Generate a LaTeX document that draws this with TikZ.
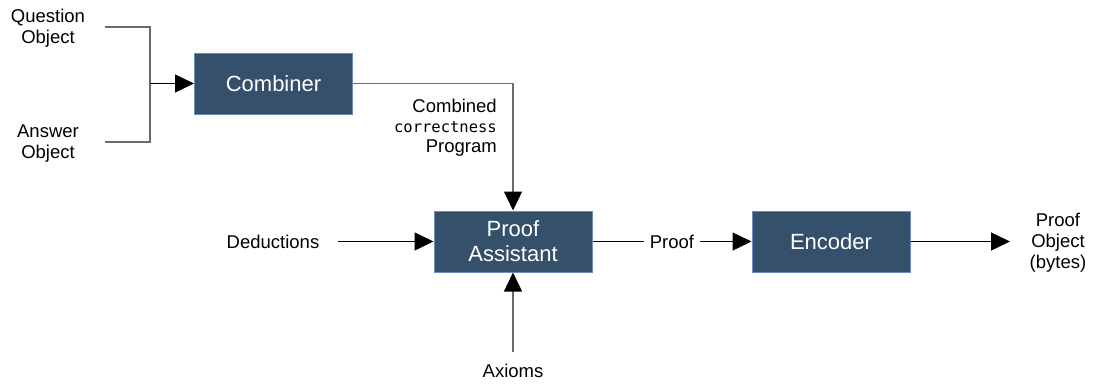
\documentclass[tikz,border=0pt]{standalone}
\usepackage{fontspec}
\setmainfont{Liberation Sans}
\setmonofont{DejaVu Sans Mono}
\usetikzlibrary{arrows.meta}
\definecolor{boxfill}{HTML}{34506A}
\definecolor{boxline}{HTML}{6C8EBF}
\definecolor{wiregray}{HTML}{6A6A6A}
\begin{document}
\begin{tikzpicture}[x=1pt,y=-1pt,
  block/.style={draw=boxline, line width=1pt, fill=boxfill, text=white,
    font=\fontsize{22}{25}\selectfont, minimum width=158pt, minimum height=61pt,
    align=center, inner sep=0pt},
  lbl/.style={font=\fontsize{18.5}{21}\selectfont, align=center, inner sep=0pt},
  wire/.style={line width=1.4pt, draw=black},
  gwire/.style={line width=1.4pt, draw=wiregray},
  tip/.style={-{Triangle[length=19pt,width=18pt,color=black]}}
]
\useasboundingbox (0,0) rectangle (1100,383);

% processing blocks
\node[block] (comb) at (273.5,83.5) {Combiner};
\node[block] (pa) at (513,241.5) {Proof\\Assistant};
\node[block] (enc) at (831,241.5) {Encoder};

% inputs and outputs
\node[lbl] (q) at (48,28) {Question\\Object};
\node[lbl] (a) at (48,144) {Answer\\Object};
\node[lbl] (ded) at (273,242) {Deductions};
\node[lbl] (ax) at (513,371) {Axioms};
\node[lbl] (out) at (1058,242.5) {Proof\\Object\\(bytes)};
\node[lbl, align=right, anchor=east, font=\fontsize{18.5}{20}\selectfont] (cp) at (497,128)
  {Combined\\{\ttfamily\fontsize{15.5}{20}\selectfont correctness}\\Program};

% free ends of the connectors
\coordinate (qs) at (105,27);
\coordinate (as) at (105,142);
\coordinate (j) at (150,83.5);
\coordinate (ds) at (338,241.5);
\coordinate (os) at (1010,241.5);
\coordinate (axs) at (513,352);

% connectors
\draw[gwire] (qs) -| (j);
\draw[gwire] (as) -| (j);
\draw[wire,tip] (j) -- (comb.west);
\draw[gwire,tip] (comb.east) -| (pa.north);
\draw[wire,tip] (ds) -- (pa.west);
\draw[gwire,tip] (axs) -- (pa.south);
\draw[wire,tip] (pa.east) -- node[lbl, fill=white, inner xsep=6pt, inner ysep=2pt] {Proof} (enc.west);
\draw[wire,tip] (enc.east) -- (os);
\end{tikzpicture}
\end{document}
